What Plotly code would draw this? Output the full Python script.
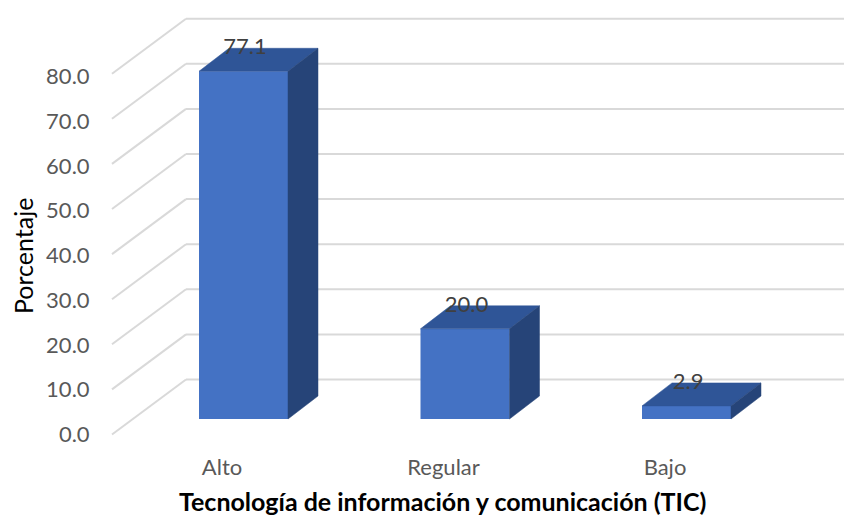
import plotly.graph_objects as go

categories = ["Alto", "Regular", "Bajo"]
values = [77.1, 20.0, 2.9]
value_labels = ["77.1", "20.0", "2.9"]
y_ticks = [0, 10, 20, 30, 40, 50, 60, 70, 80]
y_tick_labels = ["0.0", "10.0", "20.0", "30.0", "40.0", "50.0", "60.0", "70.0", "80.0"]

FONT = "Lato, 'Open Sans', sans-serif"
W, H = 844, 518
ML, MB = 96, 71
PLOT_B = H - MB

PX_X = 221.5          # px per category
X0_PX = 243.5         # px of the first category centre
PX_Y = 4.51           # px per value unit
Y0_PX = 419           # px of value 0 on the bar front plane

def xr(px): return (px - X0_PX) / PX_X
def yr(px): return (Y0_PX - px) / PX_Y

BAR_W = 89 / PX_X
BAR_DX = 30 / PX_X    # depth of a bar
BAR_DY = 23 / PX_Y
GRID_FRONT_X = xr(112)
GRID_BACK_X = xr(186)
GRID_RIGHT_X = xr(844)
WALL_BASE = yr(379.5) # value 0 on the back wall
FLOOR_DROP = 55 / PX_Y

fig = go.Figure()

# gridlines: a diagonal on the side wall, then a horizontal one on the back wall
for t in y_ticks:
    back = WALL_BASE + t
    line = dict(color="#d9d9d9", width=2)
    fig.add_shape(type="line", xref="x", yref="y", layer="below", line=line,
                  x0=GRID_FRONT_X, y0=back - FLOOR_DROP, x1=GRID_BACK_X, y1=back)
    fig.add_shape(type="line", xref="x", yref="y", layer="below", line=line,
                  x0=GRID_BACK_X, y0=back, x1=GRID_RIGHT_X, y1=back)

positions = list(range(len(categories)))

# bar fronts
fig.add_trace(go.Bar(x=positions, y=values, width=BAR_W, marker=dict(color="#4472c4", line_width=0),
                     showlegend=False))

# bar tops and sides
for i, v in zip(positions, values):
    l, r = i - BAR_W / 2, i + BAR_W / 2
    fig.add_trace(go.Scatter(x=[l, r, r + BAR_DX, l + BAR_DX, l],
                             y=[v, v, v + BAR_DY, v + BAR_DY, v],
                             mode="lines", fill="toself", fillcolor="#2f5597",
                             line=dict(color="#2f5597", width=0.5), hoverinfo="skip", showlegend=False))
    fig.add_trace(go.Scatter(x=[r, r + BAR_DX, r + BAR_DX, r, r],
                             y=[0, BAR_DY, v + BAR_DY, v, 0],
                             mode="lines", fill="toself", fillcolor="#264478",
                             line=dict(color="#264478", width=0.5), hoverinfo="skip", showlegend=False))

# value labels
fig.add_trace(go.Scatter(x=[i + 0.007 for i in positions], y=[v + 5.0 for v in values],
                         mode="text", text=value_labels,
                         textfont=dict(family=FONT, size=22, color="#404040"),
                         hoverinfo="skip", showlegend=False))

# invisible trace carrying the printed value axis
fig.add_trace(go.Scatter(x=[positions[0]], y=[y_ticks[0]], yaxis="y2", mode="markers",
                         marker=dict(opacity=0), hoverinfo="skip", showlegend=False))

fig.add_annotation(text="<b>Tecnología de información y comunicación (TIC)</b>",
                   xref="paper", yref="paper", x=(442 - ML) / (W - ML), y=-(501 - PLOT_B) / PLOT_B,
                   showarrow=False, xanchor="center", yanchor="middle",
                   font=dict(family=FONT, size=25, color="#000000"))
fig.add_annotation(text="Porcentaje", textangle=-90,
                   xref="paper", yref="paper", x=(23 - ML) / (W - ML), y=1 - 256 / PLOT_B,
                   showarrow=False, xanchor="center", yanchor="middle",
                   font=dict(family=FONT, size=25, color="#000000"))

fig.update_layout(
    width=W, height=H,
    margin=dict(l=ML, r=0, t=0, b=MB, autoexpand=False),
    paper_bgcolor="white", plot_bgcolor="rgba(0,0,0,0)",
    font=dict(family=FONT, size=22, color="#595959"),
    xaxis=dict(range=[xr(ML), xr(W)], tickmode="array",
               tickvals=[i - 0.097 for i in positions], ticktext=categories,
               showgrid=False, zeroline=False, showline=False,
               ticks="outside", ticklen=1, tickcolor="rgba(0,0,0,0)",
               tickfont=dict(family=FONT, size=22, color="#595959")),
    yaxis=dict(range=[yr(PLOT_B), yr(0)], showticklabels=False, showgrid=False,
               zeroline=False, showline=False),
    yaxis2=dict(range=[(434.5 - PLOT_B) / 4.475, 434.5 / 4.475], overlaying="y", side="left", anchor="x",
                tickmode="array", tickvals=y_ticks, ticktext=y_tick_labels,
                showgrid=False, zeroline=False, showline=False,
                ticks="outside", ticklen=1, tickcolor="rgba(0,0,0,0)",
                tickfont=dict(family=FONT, size=22, color="#595959")),
    showlegend=False,
)

fig.write_html("out.html", config={"displayModeBar": False},
               post_script="document.body.style.margin='0';")
